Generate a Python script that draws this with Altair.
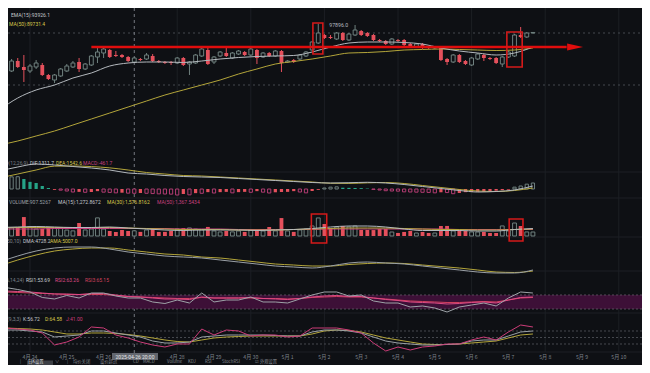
import altair as alt
import pandas as pd

# ---------------- colours / fonts ----------------
BG = "#0e1014"
GRID = "#1c1f24"
UP = "#6f807e"
DOWN = "#e4505c"
GREEN = "#26a387"
PINK = "#b23c72"
LIGHT = "#b4b9be"
YELLOW = "#b3a53a"
MAGENTA = "#c8407e"
LABEL = "#7d828a"
ANNOT = "#e00d0d"
FONT = "Roboto"
CJK = "Noto Sans CJK SC"

# ---------------- data ----------------
ORIGIN = pd.Timestamp("2025-04-24 00:00")
candle_times = pd.date_range("2025-04-23 04:00", periods=88, freq="4h")

opens = [91808, 93731, 93346, 94308, 93731, 93346, 93731, 93923, 92962, 92481,
         92866, 93346, 93731, 94212, 93539, 93923, 94692, 95077, 95365, 94885,
         94885, 94692, 94212, 94500, 94500, 94788, 94308, 94212, 94212, 94115,
         94596, 94019, 94115, 94788, 95365, 94212, 94788, 95077, 94596, 94981,
         95173, 94885, 95365, 94692, 95077, 94788, 95269, 94212, 94404, 94500,
         94788, 95365, 96038, 96808, 96615, 96423, 97000, 96327, 96808, 97192,
         97000, 96808, 96327, 96231, 95942, 96327, 96327, 95942, 95654, 95942,
         95654, 95558, 95654, 94500, 94212, 94885, 94308, 93923, 94500, 94885,
         94596, 94596, 94019, 94692, 94788, 96808, 96615, 97000]
highs = [93442, 93923, 94500, 94596, 94885, 94019, 94404, 94115, 93058, 93058,
         93635, 94019, 94308, 94596, 94115, 94885, 95558, 95654, 95462, 95269,
         94981, 94788, 94692, 94596, 95077, 94981, 94404, 94308, 94308, 94692,
         94692, 94308, 94981, 95558, 95654, 94788, 95269, 95558, 95173, 95365,
         95269, 95558, 95462, 95173, 95173, 95365, 95365, 94404, 94500, 94981,
         95269, 96231, 97896, 96900, 96808, 97096, 97096, 97000, 97770, 97288,
         97096, 96900, 96423, 96327, 96519, 96423, 96423, 96038, 96038, 96038,
         95750, 95750, 95750, 94596, 94981, 94981, 94404, 94692, 95077, 94981,
         94692, 94692, 94788, 95269, 96900, 97577, 97096, 97096]
lows = [91520, 93250, 93250, 93635, 92289, 93154, 93539, 92866, 92481, 92193,
        92770, 93250, 93635, 93250, 93442, 93827, 94115, 94596, 94596, 94692,
        94596, 94212, 94115, 94308, 94404, 94212, 94115, 94019, 93923, 94019,
        93827, 92962, 94019, 94692, 93923, 94019, 94692, 94692, 94500, 94885,
        94788, 94788, 94019, 94596, 94692, 94692, 93250, 94115, 94115, 94404,
        94692, 95269, 95942, 96423, 96423, 96327, 96231, 96231, 96711, 96711,
        96615, 96231, 96135, 95846, 95846, 96135, 95750, 95654, 95558, 95462,
        95462, 95462, 94308, 93923, 94115, 94115, 93923, 93827, 94404, 94308,
        94404, 94019, 93731, 94596, 94692, 96519, 96519, 96950]
closes = [93250, 93442, 94308, 93731, 93442, 93827, 94115, 92962, 92577, 92962,
          93539, 93827, 94115, 93539, 94019, 94788, 95173, 95462, 94692, 94788,
          94692, 94308, 94596, 94404, 94885, 94308, 94212, 94115, 94115, 94596,
          93923, 94212, 94885, 95462, 94019, 94692, 95173, 94788, 95077, 95269,
          94885, 95462, 94596, 95077, 94788, 95269, 94115, 94308, 94212, 94885,
          95173, 96135, 97000, 96519, 96519, 97000, 96327, 96900, 97288, 96808,
          96711, 96327, 96231, 95942, 96423, 96231, 95846, 95750, 95942, 95558,
          95558, 95654, 94404, 94212, 94885, 94212, 94019, 94596, 94981, 94596,
          94500, 94115, 94692, 95173, 96808, 96615, 97000, 97050]
volumes = [1380, 1350, 1370, 1530, 3220, 1540, 1190, 1210, 1520, 1360,
           1340, 1010, 870, 2210, 1030, 1190, 3080, 1180, 860, 690,
           1020, 850, 880, 700, 1030, 1170, 690, 700, 860, 1200,
           1350, 1370, 1180, 1030, 1540, 860, 690, 850, 700, 860,
           690, 1020, 1190, 850, 1530, 870, 3050, 860, 700, 1030,
           1180, 1710, 3070, 2040, 1360, 1530, 1700, 1540, 1710, 1020,
           1030, 1010, 1190, 1200, 680, 520, 690, 860, 510, 690,
           520, 510, 1700, 1710, 860, 1020, 850, 690, 680, 700,
           520, 510, 1710, 860, 2210, 1700, 690, 680]
macd_hist = [800, 830, 850, 860, 700, 500, 420, 210, 70,
             -60, -80, -140, -210, -200, -230, -210, -150, -220, -240,
             -270, -260, -290, -300, -280, -300, -320, -340, -350, -360,
             -420, -350, -410, -290, -300, -220, -280, -220, -200, -270,
             -220, -200, -230, -150, -220, -280, -230, -210, -200, -150,
             -210, -270, -140, -60,
             70, 130, 150, 90, 80, 70, 60, 30,
             -30, -70, -120, -140, -150, -200, -210, -220, -230, -240,
             -270, -230, -250, -330, -280, -220, -210, -200, -190, -140,
             -120, -80, -50,
             130, 210, 340, 420]

# smooth indicator lines, read every 3rd candle (first candle onward)
ema15 = [89596, 90750, 91520, 91998, 92673, 93154, 93827, 94115, 94212, 94212,
         94164, 94308, 94500, 94644, 94741, 94789, 94837, 95173, 95654, 96038,
         96135, 96135, 96087, 95942, 95558, 95269, 95077, 94885, 95077, 95654]
ma50 = [86231, 86616, 87097, 87577, 88154, 88731, 89308, 89885, 90462, 91039,
        91520, 92000, 92481, 93058, 93539, 94019, 94260, 94500, 94789, 95077,
        95125, 95221, 95365, 95414, 95462, 95414, 95365, 95317, 95365, 95558]
dif = [1260, 1540, 1750, 1680, 1575, 1470, 1330, 1120, 1050, 945,
       875, 840, 805, 735, 665, 595, 525, 455, 420, 440,
       470, 420, 315, 175, 35, -105, -210, -175, -70, 210]
dea = [770, 1050, 1330, 1600, 1610, 1570, 1480, 1330, 1155, 1050,
       945, 910, 840, 770, 700, 630, 560, 490, 400, 390,
       430, 455, 385, 245, 105, -35, -140, -175, -105, 70]
vol_ma15 = [1445, 1530, 1615, 1530, 1445, 1445, 1530, 1360, 1190, 1020,
            935, 1020, 1020, 1020, 935, 1020, 1105, 1275, 1530, 1700,
            1700, 1530, 1190, 935, 935, 935, 850, 850, 1105, 1275]
vol_ma30 = [1360, 1445, 1445, 1445, 1445, 1445, 1445, 1360, 1275, 1190,
            1105, 1105, 1105, 1020, 1020, 1020, 1105, 1190, 1275, 1360,
            1360, 1360, 1275, 1190, 1105, 1105, 1020, 1020, 1105, 1190]
vol_ma50 = [1190, 1190, 1190, 1275, 1275, 1275, 1275, 1275, 1275, 1275,
            1190, 1190, 1190, 1105, 1105, 1105, 1105, 1105, 1190, 1190,
            1190, 1190, 1190, 1190, 1190, 1105, 1105, 1105, 1105, 1105]
dma = [3402, 4242, 4942, 5362, 5502, 5502, 5222, 4802, 4522, 4242,
       4102, 3962, 3682, 3402, 3122, 2842, 2702, 2562, 2842, 3262,
       3402, 3262, 3122, 2842, 2562, 2282, 2002, 1862, 1862, 2282]
ama = [2842, 3682, 4382, 4942, 5222, 5362, 5362, 5082, 4802, 4522,
       4382, 4102, 3962, 3682, 3402, 3122, 2982, 2842, 2842, 3052,
       3192, 3262, 3192, 2982, 2772, 2562, 2282, 2002, 1932, 2142]

# jagged oscillators, read every 2nd candle (second candle onward)
rsi1 = [91.4, 85.7, 78.6, 62.9, 58.6, 68.6, 61.4, 75.7, 75.7, 67.1,
        61.4, 61.4, 50.0, 45.7, 55.7, 47.1, 75.7, 50.0, 55.7, 55.7,
        64.3, 50.0, 50.0, 47.1, 58.6, 70.0, 78.6, 78.6, 67.1, 70.0,
        52.9, 47.1, 47.1, 35.7, 38.6, 32.9, 21.4, 35.7, 41.4, 47.1,
        38.6, 61.4, 78.6, 75.7]
rsi2 = [81.4, 80.0, 78.6, 75.7, 72.9, 72.9, 71.4, 74.3, 74.3, 70.0,
        65.7, 64.3, 61.4, 58.6, 58.6, 57.1, 64.3, 61.4, 61.4, 61.4,
        62.9, 60.0, 58.6, 57.1, 60.0, 64.3, 67.1, 68.6, 65.7, 65.7,
        61.4, 57.1, 54.3, 50.0, 48.6, 47.1, 44.3, 45.7, 48.6, 50.0,
        47.1, 55.7, 62.9, 64.3]
rsi3 = [78.6, 77.1, 75.7, 74.3, 72.9, 71.4, 71.4, 71.4, 71.4, 68.6,
        65.7, 64.3, 62.9, 61.4, 60.0, 60.0, 62.9, 61.4, 61.4, 61.4,
        61.4, 60.0, 60.0, 58.6, 60.0, 62.9, 64.3, 65.7, 64.3, 64.3,
        61.4, 58.6, 55.7, 52.9, 51.4, 50.0, 48.6, 48.6, 50.0, 51.4,
        50.0, 55.7, 61.4, 62.9]
kdj_k = [84.6, 84.6, 80.0, 75.4, 52.3, 56.9, 61.5, 80.0, 80.0, 70.8,
         61.5, 52.3, 33.8, 24.6, 24.6, 29.2, 52.3, 56.9, 61.5, 61.5,
         61.5, 61.5, 59.2, 56.9, 56.9, 75.4, 84.6, 84.6, 80.0, 70.8,
         52.3, 33.8, 24.6, 20.0, 15.4, 15.4, 17.7, 20.0, 33.8, 38.5,
         38.5, 56.9, 75.4, 80.0]
kdj_d = [93.8, 91.5, 89.2, 84.6, 75.4, 66.2, 66.2, 70.8, 70.8, 68.5,
         63.8, 56.9, 47.7, 38.5, 31.5, 29.2, 38.5, 47.7, 52.3, 54.6,
         56.9, 56.9, 56.9, 56.9, 56.9, 66.2, 80.0, 84.6, 82.3, 75.4,
         61.5, 47.7, 38.5, 29.2, 20.0, 17.7, 17.7, 20.0, 24.6, 29.2,
         33.8, 47.7, 61.5, 66.2]
kdj_j = [93.8, 89.2, 84.6, 70.8, 15.4, 29.2, 52.3, 98.5, 93.8, 61.5,
         47.7, 29.2, 15.4, 6.2, 20.0, 20.0, 89.2, 61.5, 84.6, 80.0,
         56.9, 61.5, 61.5, 52.3, 56.9, 93.8, 93.8, 93.8, 84.6, 70.8,
         24.6, -12.3, 6.2, -7.7, 6.2, 10.8, 20.0, 20.0, 38.5, 52.3,
         38.5, 75.4, 107.7, 98.5]

day_labels = ["4月 24", "4月 25", "4月 26", "4月 28", "4月 29", "4月 30", "5月 1", "5月 2",
              "5月 3", "5月 4", "5月 5", "5月 6", "5月 7", "5月 8", "5月 9", "5月 10"]
day_dates = ["2025-04-24", "2025-04-25", "2025-04-26", "2025-04-28", "2025-04-29", "2025-04-30",
             "2025-05-01", "2025-05-02", "2025-05-03", "2025-05-04", "2025-05-05", "2025-05-06",
             "2025-05-07", "2025-05-08", "2025-05-09", "2025-05-10"]
grid_dates = ["2025-04-24", "2025-04-28", "2025-04-30", "2025-05-02", "2025-05-04",
              "2025-05-06", "2025-05-08", "2025-05-10"]
crosshair_time = "2025-04-26 20:00"
high_label = "97896.0"

# hand-drawn annotations (time, price / volume)
trend_start, trend_end, arrow_at, trend_price = "2025-04-25 16:00", "2025-05-08 14:00", "2025-05-08 19:30", 95654
price_boxes = [("2025-05-01 16:30", "2025-05-01 23:00", 94980, 97960),
               ("2025-05-06 23:00", "2025-05-07 09:00", 93730, 97100)]
volume_boxes = [("2025-05-01 15:30", "2025-05-02 01:30", -1190, 3740),
                ("2025-05-07 00:30", "2025-05-07 09:30", -850, 2890)]


def to_hours(ts):
    return [(pd.Timestamp(t) - ORIGIN) / pd.Timedelta(hours=1) for t in ts]


# ---------------- scales ----------------
W, H = 634, 357
XS = alt.Scale(domain=to_hours(["2025-04-23 09:39", "2025-05-10 15:08"]), nice=False, zero=False)
PANELS = {
    "main": ([85270, 99404], [147, 0]),
    "macd": ([-630, 2380], [190, 147]),
    "vol": ([-340, 6460], [230, 190]),
    "dma": ([1582, 6762], [267, 230]),
    "rsi": ([18.57, 127.14], [305, 267]),
    "kdj": ([-16.92, 163.05], [344, 305]),
}


def ys(p):
    dom, rng = PANELS[p]
    return alt.Scale(domain=dom, range=rng, nice=False, zero=False)


def xq(f="h"):
    return alt.X(f"{f}:Q", scale=XS, axis=None)


def yq(f, p):
    return alt.Y(f"{f}:Q", scale=ys(p), axis=None)


ONE = pd.DataFrame({"a": [0]})
layers = []

# ---------------- grid ----------------
gdf = pd.DataFrame({"h": to_hours(grid_dates)})
layers.append(alt.Chart(gdf).mark_rule(color=GRID, strokeWidth=1).encode(
    x=xq(), y=alt.value(0), y2=alt.value(344)))
for py in [164, 190, 229, 263, 305, 344]:
    layers.append(alt.Chart(ONE).mark_rule(color=GRID, strokeWidth=1).encode(
        x=alt.value(0), x2=alt.value(W), y=alt.value(py)))

# dotted price levels
layers.append(alt.Chart(pd.DataFrame({"v": [97000, 92000]})).mark_rule(
    color="#45484e", strokeWidth=1, strokeDash=[2, 3]).encode(
    y=yq("v", "main"), x=alt.value(0), x2=alt.value(W)))

# crosshair
layers.append(alt.Chart(pd.DataFrame({"h": to_hours([crosshair_time])})).mark_rule(
    color="#767a81", strokeWidth=1, strokeDash=[3, 3]).encode(
    x=xq(), y=alt.value(0), y2=alt.value(346)))

# ---------------- candles ----------------
cdf = pd.DataFrame({"h": to_hours(candle_times), "o": opens, "hi": highs, "lo": lows,
                    "c": closes, "volume": volumes, "macd": macd_hist})
cdf["zero"] = 0
cdf["l"] = cdf["h"] - 1.25
cdf["r"] = cdf["h"] + 1.25
cdf["ml"] = cdf["h"] - 1.05
cdf["mr"] = cdf["h"] + 1.05
cdf["isup"] = cdf["c"] >= cdf["o"]
mag = cdf["macd"].abs()
cdf["grow"] = mag >= mag.shift(1).fillna(0)
up = cdf[cdf["isup"]]
dn = cdf[~cdf["isup"]]

for d, col in [(up, UP), (dn, DOWN)]:
    layers.append(alt.Chart(d).mark_rule(color=col, strokeWidth=1).encode(
        x=xq(), y=yq("lo", "main"), y2="hi:Q"))
layers.append(alt.Chart(up).mark_rect(fill=BG, stroke=UP, strokeWidth=1).encode(
    x=xq("l"), x2="r:Q", y=yq("o", "main"), y2="c:Q"))
layers.append(alt.Chart(dn).mark_rect(color=DOWN).encode(
    x=xq("l"), x2="r:Q", y=yq("o", "main"), y2="c:Q"))


def line(hs, vals, panel, color, width=1.0, interp="monotone"):
    df = pd.DataFrame({"h": hs, "v": vals})
    return alt.Chart(df).mark_line(color=color, strokeWidth=width, interpolate=interp).encode(
        x=xq(), y=yq("v", panel))


h3 = to_hours(candle_times[0::3])
h2 = to_hours(candle_times[1::2])

layers.append(line(h3, ma50, "main", YELLOW))
layers.append(line(h3, ema15, "main", LIGHT))

# high label
layers.append(alt.Chart(pd.DataFrame({"h": [cdf["h"][52]], "v": [highs[52]], "t": [high_label]})).mark_text(
    align="left", baseline="middle", dx=11, dy=1, fontSize=5.2, font=FONT, color="#b8bcc2").encode(
    x=xq(), y=yq("v", "main"), text="t:N"))

# ---------------- annotations ----------------
tl = pd.DataFrame({"h": to_hours([trend_start, trend_end]), "v": [trend_price, trend_price]})
layers.append(alt.Chart(tl).mark_line(color=ANNOT, strokeWidth=2.5).encode(x=xq(), y=yq("v", "main")))
layers.append(alt.Chart(pd.DataFrame({"h": to_hours([arrow_at]), "v": [trend_price]})).mark_point(
    shape="M-1,-0.45L1,0L-1,0.45Z", size=256, filled=True, color=ANNOT, opacity=1).encode(
    x=xq(), y=yq("v", "main")))
pb = pd.DataFrame({"h1": to_hours([b[0] for b in price_boxes]), "h2": to_hours([b[1] for b in price_boxes]),
                   "v1": [b[2] for b in price_boxes], "v2": [b[3] for b in price_boxes]})
layers.append(alt.Chart(pb).mark_rect(fillOpacity=0, stroke="#d41a1a", strokeWidth=1.6).encode(
    x=xq("h1"), x2="h2:Q", y=yq("v1", "main"), y2="v2:Q"))

# ---------------- MACD ----------------
macd_sets = [
    (cdf[(cdf["macd"] >= 0) & cdf["grow"]], dict(fill=BG, stroke=UP, strokeWidth=1)),
    (cdf[(cdf["macd"] >= 0) & ~cdf["grow"]], dict(color=GREEN)),
    (cdf[(cdf["macd"] < 0) & cdf["grow"]], dict(fill=BG, stroke=PINK, strokeWidth=1)),
    (cdf[(cdf["macd"] < 0) & ~cdf["grow"]], dict(color=DOWN)),
]
for d, style in macd_sets:
    layers.append(alt.Chart(d).mark_rect(**style).encode(
        x=xq("ml"), x2="mr:Q", y=yq("macd", "macd"), y2="zero:Q"))
layers.append(line(h3, dea, "macd", YELLOW))
layers.append(line(h3, dif, "macd", LIGHT))

# ---------------- Volume ----------------
layers.append(alt.Chart(up).mark_rect(fill=BG, stroke=UP, strokeWidth=1).encode(
    x=xq("l"), x2="r:Q", y=yq("volume", "vol"), y2="zero:Q"))
layers.append(alt.Chart(dn).mark_rect(color=DOWN).encode(
    x=xq("l"), x2="r:Q", y=yq("volume", "vol"), y2="zero:Q"))
layers.append(line(h3, vol_ma50, "vol", MAGENTA))
layers.append(line(h3, vol_ma30, "vol", YELLOW))
layers.append(line(h3, vol_ma15, "vol", LIGHT))
vb = pd.DataFrame({"h1": to_hours([b[0] for b in volume_boxes]), "h2": to_hours([b[1] for b in volume_boxes]),
                   "v1": [b[2] for b in volume_boxes], "v2": [b[3] for b in volume_boxes]})
layers.append(alt.Chart(vb).mark_rect(fillOpacity=0, stroke="#d41a1a", strokeWidth=1.6).encode(
    x=xq("h1"), x2="h2:Q", y=yq("v1", "vol"), y2="v2:Q"))

# ---------------- DMA ----------------
layers.append(line(h3, ama, "dma", YELLOW))
layers.append(line(h3, dma, "dma", "#9aa0a6"))

# ---------------- RSI ----------------
layers.append(alt.Chart(pd.DataFrame({"lo": [30], "hi": [70]})).mark_rect(color="#3d1037").encode(
    x=alt.value(0), x2=alt.value(W), y=yq("lo", "rsi"), y2="hi:Q"))
layers.append(alt.Chart(pd.DataFrame({"v": [30, 70]})).mark_rule(
    color="#5a4a5c", strokeWidth=1, strokeDash=[2, 2]).encode(
    y=yq("v", "rsi"), x=alt.value(0), x2=alt.value(W)))
layers.append(line(h2, rsi3, "rsi", "#d0405e", interp="linear"))
layers.append(line(h2, rsi2, "rsi", "#de4a86", interp="linear"))
layers.append(line(h2, rsi1, "rsi", "#9ea3a8", interp="linear"))

# ---------------- KDJ ----------------
layers.append(alt.Chart(pd.DataFrame({"v": [80, 50, 20]})).mark_rule(
    color="#46494f", strokeWidth=1, strokeDash=[2, 2]).encode(
    y=yq("v", "kdj"), x=alt.value(0), x2=alt.value(W)))
layers.append(line(h2, kdj_d, "kdj", YELLOW, interp="linear"))
layers.append(line(h2, kdj_k, "kdj", "#9aa0a6", interp="linear"))
layers.append(line(h2, kdj_j, "kdj", "#cc3c78", interp="linear"))


# ---------------- texts ----------------
def label(text, x, y, color, size=5.0, align="left", font=FONT):
    return alt.Chart(pd.DataFrame({"t": [text]})).mark_text(
        align=align, baseline="middle", fontSize=size, font=font, color=color).encode(
        x=alt.value(x), y=alt.value(y), text="t:N")


legend_rows = [
    (7, [("EMA(15):93926.1", 3, "#c5c9ce")]),
    (16, [("MA(50):89731.4", 1, "#d8c84a")]),
    (155, [("DIF:1311.7", 22, "#c5c9ce"), ("DEA:1542.6", 48, "#d8c84a"), ("MACD:-461.7", 75, "#c8407e")]),
    (194, [("VOLUME:907.5267", 1, "#9ca1a8"), ("MA(15):1,272.8672", 50, "#c5c9ce"),
           ("MA(30):1,576.8162", 99, "#d8c84a"), ("MA(50):1,367.5434", 149, "#c8407e")]),
    (233, [("DMA:4728.2", 15, "#c5c9ce"), ("AMA:5007.0", 42, "#d8c84a")]),
    (272, [("RSI1:53.69", 18, "#c5c9ce"), ("RSI2:63.26", 47, "#de4a86"), ("RSI3:65.15", 77, "#d0405e")]),
    (311, [("K:56.72", 15, "#c5c9ce"), ("D:64.58", 37, "#d8c84a"), ("J:41.00", 58, "#cc3c78")]),
]
prefixes = [(155, "MACD(12,26,9)", 20), (233, "DMA(10,50,10)", 13), (272, "RSI(6,14,24)", 16),
            (311, "KDJ(9,3,3)", 13)]
for y, items in legend_rows:
    for t, x, c in items:
        layers.append(label(t, x, y, c))
for y, t, x in prefixes:
    layers.append(label(t, x, y, LABEL, align="right"))

# date axis
ddf = pd.DataFrame({"h": to_hours(day_dates), "t": day_labels})
layers.append(alt.Chart(ddf).mark_text(baseline="middle", fontSize=5.2, font=CJK, color=LABEL).encode(
    x=xq(), y=alt.value(348.5), text="t:N"))
layers.append(alt.Chart(ONE).mark_rect(color="#62666e").encode(
    x=alt.value(104), x2=alt.value(150), y=alt.value(345), y2=alt.value(352)))
layers.append(label("2025-04-26 20:00", 127, 348.7, "#e8e8e8", size=5.0, align="center"))

# toolbar along the bottom edge
layers.append(alt.Chart(ONE).mark_rect(color="#3c3f45").encode(
    x=alt.value(19), x2=alt.value(45), y=alt.value(352.5), y2=alt.value(357)))
toolbar = [("|", 12), ("日K设置", 20), ("∨", 47), ("|", 59), ("均价关闭", 65), ("设价超过", 92),
           ("CD", 125), ("MACD", 135), ("Volume", 159), ("KDJ", 180), ("RSI", 197),
           ("StochRSI", 214), ("☑ 外观设置", 247)]
for t, x in toolbar:
    layers.append(alt.Chart(pd.DataFrame({"t": [t]})).mark_text(
        align="left", baseline="top", fontSize=4.3, font=CJK,
        color="#d0d4d8" if t == "日K设置" else "#868b93").encode(
        x=alt.value(x), y=alt.value(352.3), text="t:N"))

chart = alt.layer(*layers).resolve_scale(y="independent").properties(
    width=W, height=H, background=BG, padding=0,
    autosize=alt.AutoSizeParams(type="none"),
).configure_view(strokeWidth=0)

chart.save("out.html", embed_options={"renderer": "svg", "actions": False})
